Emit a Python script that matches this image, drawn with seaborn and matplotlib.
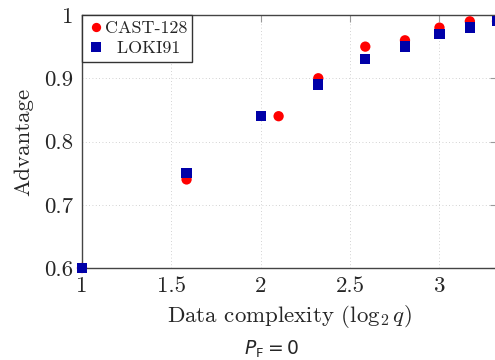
import numpy as np
import pandas as pd
import matplotlib
matplotlib.use('Agg')
import matplotlib.pyplot as plt
from matplotlib.ticker import FuncFormatter
import seaborn as sns

# data (x = log2 q)
x_cast = [1.0, 1.585, 2.1, 2.322, 2.585, 2.807, 3.0, 3.17, 3.322]
y_cast = [0.60, 0.74, 0.84, 0.90, 0.95, 0.96, 0.98, 0.99, 0.99]
x_loki = [1.0, 1.585, 2.0, 2.322, 2.585, 2.807, 3.0, 3.17, 3.322]
y_loki = [0.60, 0.75, 0.84, 0.89, 0.93, 0.95, 0.97, 0.98, 0.99]
x_ticks = [1, 1.5, 2, 2.5, 3]
y_ticks = [0.6, 0.7, 0.8, 0.9, 1.0]

df = pd.DataFrame({
    'x': x_cast + x_loki,
    'y': y_cast + y_loki,
    'cipher': ['CAST-128'] * len(x_cast) + ['LOKI91'] * len(x_loki),
})

sns.set_style('white')
plt.rcParams['font.family'] = ['cmr10', 'DejaVu Serif']
plt.rcParams['mathtext.fontset'] = 'cm'
plt.rcParams['axes.formatter.use_mathtext'] = True

fig = plt.figure(figsize=(4.95, 3.6), dpi=100)
ax = fig.add_axes([82 / 495, 92 / 360, 415 / 495, 253 / 360])

sns.scatterplot(data=df, x='x', y='y', hue='cipher', style='cipher',
                palette={'CAST-128': '#ff0000', 'LOKI91': '#0000a8'},
                markers={'CAST-128': 'o', 'LOKI91': 's'},
                s=55, linewidth=0, clip_on=False, zorder=3, ax=ax)

ax.set_xlim(1, np.log2(10))
ax.set_ylim(0.6, 1.0)
ax.set_xticks(x_ticks)
ax.set_yticks(y_ticks)
fmt = FuncFormatter(lambda v, p: '%g' % v)
ax.xaxis.set_major_formatter(fmt)
ax.yaxis.set_major_formatter(fmt)
ax.tick_params(direction='in', length=5, width=0.8, color='#999999',
               top=True, right=True, labelsize=16.5, pad=6)
ax.grid(True, linestyle=(0, (1, 3)), color='#c4c4c4', linewidth=0.6)
for sp in ax.spines.values():
    sp.set_color('#444444')
    sp.set_linewidth(1.0)

ax.set_xlabel(r'Data complexity ($\log_2 q$)', fontsize=16.5, labelpad=5)
ax.set_ylabel('Advantage', fontsize=16.5, labelpad=8)

leg = ax.legend(loc='upper left', borderaxespad=0, frameon=True,
                fancybox=False, edgecolor='#333333', framealpha=1,
                fontsize=13, handletextpad=0.05, handlelength=0.9,
                borderpad=0.3, labelspacing=0.25, markerscale=0.9)
leg.get_frame().set_linewidth(1.0)
leg.get_texts()[1].set_text('  LOKI91')

fig.text(272 / 495, 11 / 360, r'$P_\mathrm{F} = 0$', ha='center', va='center',
         fontsize=13.5, math_fontfamily='dejavusans')

fig.savefig('out.png', dpi=100)
